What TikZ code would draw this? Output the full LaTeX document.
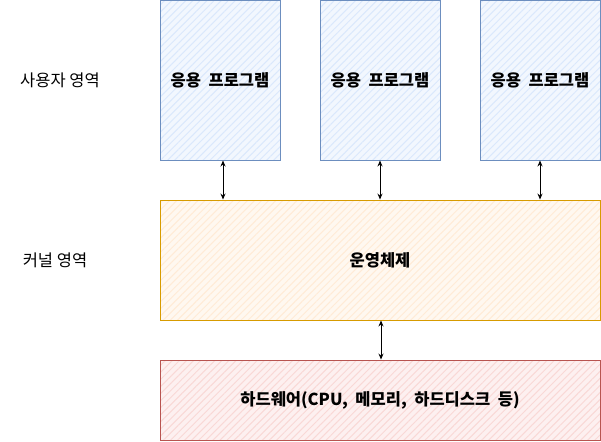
\documentclass[tikz,border=0pt]{standalone}
\usepackage{fontspec}
\setmainfont{Noto Sans CJK KR}
\usetikzlibrary{arrows.meta,patterns.meta}
\definecolor{appline}{HTML}{6C8EBF}
\definecolor{appfill}{HTML}{DAE8FC}
\definecolor{kernline}{HTML}{D79B00}
\definecolor{kernfill}{HTML}{FFE6CC}
\definecolor{hwline}{HTML}{B85450}
\definecolor{hwfill}{HTML}{F8CECC}

\begin{document}
\begin{tikzpicture}[x=1pt,y=-1pt,>={Stealth[length=6pt,width=5pt]},font=\fontsize{16.5}{19}\selectfont,
  hatch/.style={pattern={Lines[angle=45,distance=5pt,line width=1pt]}},
  appbox/.style={draw=appline,line width=0.9pt,preaction={fill=appfill!35},hatch,pattern color=appfill,
    minimum width=120pt,minimum height=160pt,font=\fontsize{16.5}{19}\selectfont\bfseries},
  kernbox/.style={draw=kernline,line width=0.9pt,preaction={fill=kernfill!30},hatch,pattern color=kernfill!80,
    minimum width=440pt,minimum height=120pt,font=\fontsize{16.5}{19}\selectfont\bfseries},
  hwbox/.style={draw=hwline,line width=0.9pt,preaction={fill=hwfill!30},hatch,pattern color=hwfill!80,
    minimum width=440pt,minimum height=80pt,font=\fontsize{16.5}{19}\selectfont\bfseries}]
\useasboundingbox (0,0) rectangle (601,441);
\node[appbox] (app1) at (220,80) {응용\ \ 프로그램};
\node[appbox] (app2) at (380,80) {응용\ \ 프로그램};
\node[appbox] (app3) at (540,80) {응용\ \ 프로그램};
\node[kernbox] (kernel) at (380,260) {운영체제};
\node[hwbox] (hw) at (380,400) {하드웨어(CPU,\ \ 메모리,\ \ 하드디스크\ \ 등)};
\node (userarea) at (60,80) {사용자 영역};
\node (kernarea) at (55,260) {커널 영역};
\foreach \a/\dx in {app1/3,app2/0,app3/0}{
  \draw[<->,line width=0.9pt] ([xshift=\dx pt]\a.south) -- ([xshift=\dx pt]\a.south |- kernel.north);}
\draw[<->,line width=0.9pt] ([xshift=1pt]kernel.south) -- ([xshift=1pt]hw.north);
\end{tikzpicture}
\end{document}
